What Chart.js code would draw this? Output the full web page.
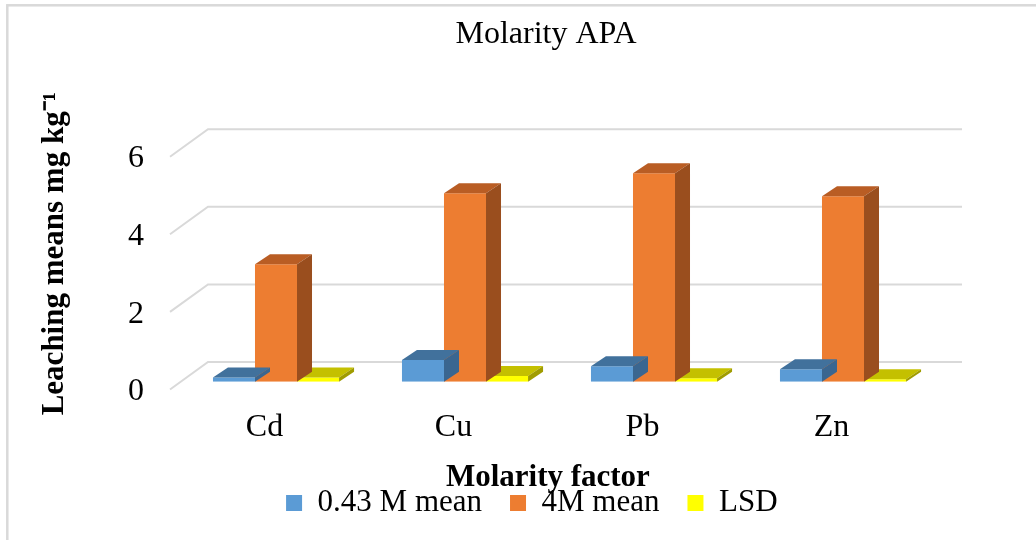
<!DOCTYPE html>
<html>
<head>
<meta charset="utf-8">
<title>Molarity APA</title>
<script src="https://cdn.jsdelivr.net/npm/chart.js@4.4.1/dist/chart.umd.min.js"></script>
<style>
  html, body { margin: 0; padding: 0; background: #fff; }
  canvas { display: block; }
</style>
</head>
<body>
<canvas id="chart" width="1036" height="540"></canvas>
<script>
const categories = ['Cd', 'Cu', 'Pb', 'Zn'];
const lowMolarMeans = [0.11, 0.56, 0.40, 0.32];
const highMolarMeans = [3.03, 4.86, 5.37, 4.78];
const lsdValues = [0.11, 0.15, 0.09, 0.06];
const yTicks = [0, 2, 4, 6];
const seriesNames = ['0.43 M mean', '4M mean', 'LSD'];

const FONT = '"Liberation Serif", "Times New Roman", serif';
const DEPTH_X = 15, DEPTH_Y = -10;

// front / top / side shades for each series
const faceColors = [
  { front: '#5b9bd5', top: '#41719c', side: '#3a6690' },
  { front: '#ed7d31', top: '#b95d24', side: '#9a4e1e' },
  { front: '#ffff00', top: '#c4c000', side: '#a09c00' },
];

// fakes the 3D look: back wall grid, top and side faces of the bars
const fakeDepth = {
  id: 'fakeDepth',
  beforeDraw(chart) {
    const ctx = chart.ctx;
    ctx.save();
    ctx.strokeStyle = '#d9d9d9';
    ctx.lineWidth = 2.5;
    ctx.strokeRect(7.3, 5.3, 1100, 600);
    ctx.restore();
  },
  beforeDatasetsDraw(chart) {
    const { ctx, chartArea, scales } = chart;
    ctx.save();
    ctx.strokeStyle = '#d9d9d9';
    ctx.lineWidth = 2;
    yTicks.forEach(v => {
      const y = scales.y.getPixelForValue(v);
      ctx.beginPath();
      ctx.moveTo(chartArea.left - 11.5, y + 7.8);
      ctx.lineTo(chartArea.left + 26.5, y - 19.7);
      ctx.lineTo(chartArea.right + 24.5, y - 19.7);
      ctx.stroke();
    });
    ctx.restore();
  },
  afterDatasetDraw(chart, args) {
    const ctx = chart.ctx;
    const shade = faceColors[args.index];
    ctx.save();
    args.meta.data.forEach(bar => {
      const { x, y, base, width } = bar.getProps(['x', 'y', 'base', 'width'], true);
      const l = x - width / 2, r = x + width / 2;
      ctx.fillStyle = shade.top;
      ctx.beginPath();
      ctx.moveTo(l, y);
      ctx.lineTo(r, y);
      ctx.lineTo(r + DEPTH_X, y + DEPTH_Y);
      ctx.lineTo(l + DEPTH_X, y + DEPTH_Y);
      ctx.closePath();
      ctx.fill();
      ctx.fillStyle = shade.side;
      ctx.beginPath();
      ctx.moveTo(r, y);
      ctx.lineTo(r + DEPTH_X, y + DEPTH_Y);
      ctx.lineTo(r + DEPTH_X, base + DEPTH_Y);
      ctx.lineTo(r, base);
      ctx.closePath();
      ctx.fill();
    });
    ctx.restore();
  },
  afterDraw(chart) {
    const ctx = chart.ctx;
    ctx.save();
    ctx.fillStyle = '#000';
    ctx.font = '32px ' + FONT;
    ctx.textAlign = 'center';
    ctx.textBaseline = 'middle';
    ctx.fillText('Molarity APA', 546, 35);
    ctx.restore();
  }
};

new Chart(document.getElementById('chart'), {
  type: 'bar',
  data: {
    labels: categories,
    datasets: [
      { label: seriesNames[0], data: lowMolarMeans, backgroundColor: faceColors[0].front },
      { label: seriesNames[1], data: highMolarMeans, backgroundColor: faceColors[1].front },
      { label: seriesNames[2], data: lsdValues, backgroundColor: faceColors[2].front },
    ],
  },
  options: {
    responsive: false,
    animation: false,
    layout: { padding: { left: 27.6, right: 0, top: 148.9, bottom: 11.5 } },
    datasets: { bar: { categoryPercentage: 0.667, barPercentage: 1, borderWidth: 0 } },
    scales: {
      x: {
        grid: { display: false, drawTicks: false },
        border: { display: false },
        ticks: { color: '#000', font: { family: FONT, size: 32 }, padding: 27, labelOffset: -11.5 },
        title: {
          display: true,
          text: 'Molarity factor   ',
          color: '#000',
          font: { family: FONT, size: 31, weight: 'bold' },
          padding: { top: 0, bottom: -37 },
        },
        afterFit: s => { s.height = 77.8; },
      },
      y: {
        min: 0,
        max: 6,
        grid: { display: false, drawTicks: false },
        border: { display: false },
        ticks: { stepSize: 2, color: '#000', font: { family: FONT, size: 32 }, padding: 37.5, labelOffset: 10 },
        title: {
          display: true,
          text: '   Leaching means mg kg⁻¹',
          color: '#000',
          font: { family: FONT, size: 31, weight: 'bold' },
          padding: { top: 8.4, bottom: 0 },
        },
        afterFit: s => { s.width = 153.9; },
      },
      spacer: {
        type: 'linear',
        position: 'right',
        grid: { display: false },
        border: { display: false },
        ticks: { display: false },
        afterFit: s => { s.width = 98.5; },
      },
    },
    plugins: {
      legend: {
        position: 'bottom',
        labels: { color: '#000', font: { family: FONT, size: 31 }, boxWidth: 16, boxHeight: 16, padding: 28 },
      },
      tooltip: { enabled: false },
    },
  },
  plugins: [fakeDepth],
});
</script>
</body>
</html>
